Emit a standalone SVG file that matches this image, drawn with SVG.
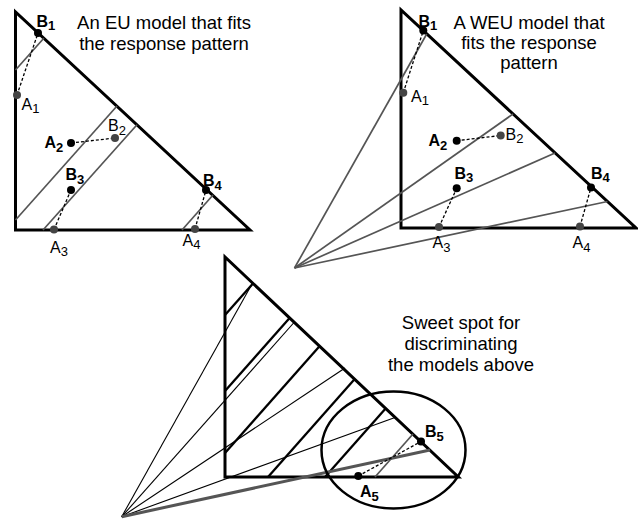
<svg xmlns="http://www.w3.org/2000/svg" width="638" height="520" viewBox="0 0 638 520">
<style>
.tri{fill:none;stroke:#000;stroke-width:3;stroke-linejoin:miter}
.gl{stroke:#555;stroke-width:1.7;fill:none}
.eu{stroke:#000;stroke-width:2.3;fill:none}
.fan{stroke:#000;stroke-width:1.1;fill:none}
.gfan{stroke:#555;stroke-width:3;fill:none}
.dash{stroke:#000;stroke-width:1.3;stroke-dasharray:3 2;fill:none}
.pb{fill:#000}
.pg{fill:#444}
.cap{font-family:"Liberation Sans",Arial,Helvetica,sans-serif;font-size:18.5px;text-anchor:middle;fill:#000}
.lb{font-family:"Liberation Sans",Arial,Helvetica,sans-serif;font-size:16px;fill:#000}
.lbb{font-family:"Liberation Sans",Arial,Helvetica,sans-serif;font-size:16px;font-weight:bold;fill:#000}
.sub{font-size:13px}
</style>

<!-- Top-left: EU model -->
<g id="eu-model">
  <polygon class="tri" points="15.5,12 15.5,230 250,230"/>
  <line class="gl" x1="15.5" y1="70" x2="43.8" y2="38.3"/>
  <line class="gl" x1="15.5" y1="220" x2="117" y2="106"/>
  <line class="gl" x1="43" y1="230" x2="137" y2="124.7"/>
  <line class="gl" x1="182" y1="230" x2="213" y2="195"/>
  <text class="cap" x="164" y="29">An EU model that fits</text>
  <text class="cap" x="164" y="50">the response pattern</text>
</g>
<g id="eu-pairs">
  <line class="dash" x1="17" y1="95" x2="38" y2="33"/>
  <line class="dash" x1="71" y1="143" x2="115" y2="138"/>
  <line class="dash" x1="54" y1="229.5" x2="71" y2="190"/>
  <line class="dash" x1="195" y1="229" x2="206" y2="190"/>
  <circle class="pb" cx="38" cy="33" r="4"/>
  <circle class="pg" cx="17" cy="95" r="4"/>
  <circle class="pb" cx="71" cy="143" r="4"/>
  <circle class="pg" cx="115" cy="138" r="4"/>
  <circle class="pb" cx="71" cy="190" r="4"/>
  <circle class="pg" cx="54" cy="229.5" r="4"/>
  <circle class="pb" cx="206" cy="190" r="4"/>
  <circle class="pg" cx="195" cy="229" r="4"/>
  <text class="lbb" x="36.5" y="26.5">B<tspan class="sub" dy="3.5">1</tspan></text>
  <text class="lb" x="21.5" y="109.5">A<tspan class="sub" dy="3.5">1</tspan></text>
  <text class="lbb" x="44.5" y="148">A<tspan class="sub" dy="4">2</tspan></text>
  <text class="lb" x="108" y="131">B<tspan class="sub" dy="3.5">2</tspan></text>
  <text class="lbb" x="65.5" y="180">B<tspan class="sub" dy="3.5">3</tspan></text>
  <text class="lb" x="50" y="252.5">A<tspan class="sub" dy="3.5">3</tspan></text>
  <text class="lbb" x="203" y="186">B<tspan class="sub" dy="3.5">4</tspan></text>
  <text class="lb" x="182.5" y="245.5">A<tspan class="sub" dy="3.5">4</tspan></text>
</g>

<!-- Top-right: WEU model -->
<g id="weu-model">
  <polygon class="tri" points="401,10 401,228 636,228"/>
  <line class="gl" x1="294.5" y1="268" x2="426.7" y2="34"/>
  <line class="gl" x1="294.5" y1="268" x2="513" y2="114"/>
  <line class="gl" x1="294.5" y1="268" x2="555" y2="153"/>
  <line class="gl" x1="294.5" y1="268" x2="607.5" y2="201.5"/>
  <text class="cap" x="529" y="28.5">A WEU model that</text>
  <text class="cap" x="529" y="48.5">fits the response</text>
  <text class="cap" x="529" y="68.5">pattern</text>
</g>
<g id="weu-pairs">
  <line class="dash" x1="403.3" y1="92.7" x2="423.3" y2="30.5"/>
  <line class="dash" x1="456.7" y1="140.7" x2="500.7" y2="135.5"/>
  <line class="dash" x1="439" y1="227" x2="456.7" y2="188.3"/>
  <line class="dash" x1="580" y1="226.5" x2="591" y2="187.5"/>
  <circle class="pb" cx="423.3" cy="30.5" r="4"/>
  <circle class="pg" cx="403.3" cy="92.7" r="4"/>
  <circle class="pb" cx="456.7" cy="140.7" r="4"/>
  <circle class="pg" cx="500.7" cy="135.5" r="4"/>
  <circle class="pb" cx="456.7" cy="188.3" r="4"/>
  <circle class="pg" cx="439" cy="227" r="4"/>
  <circle class="pb" cx="591" cy="187.5" r="4"/>
  <circle class="pg" cx="580" cy="226.5" r="4"/>
  <text class="lbb" x="418.5" y="26.5">B<tspan class="sub" dy="3.5">1</tspan></text>
  <text class="lb" x="411" y="101.5">A<tspan class="sub" dy="3.5">1</tspan></text>
  <text class="lbb" x="428.5" y="146">A<tspan class="sub" dy="4">2</tspan></text>
  <text class="lb" x="505.5" y="139.5">B<tspan class="sub" dy="3.5">2</tspan></text>
  <text class="lbb" x="454.5" y="178.5">B<tspan class="sub" dy="3.5">3</tspan></text>
  <text class="lb" x="432.5" y="248">A<tspan class="sub" dy="3.5">3</tspan></text>
  <text class="lbb" x="591" y="178.5">B<tspan class="sub" dy="3.5">4</tspan></text>
  <text class="lb" x="572.5" y="248">A<tspan class="sub" dy="3.5">4</tspan></text>
</g>

<!-- Bottom: sweet spot -->
<g id="sweet-spot">
  <polygon class="tri" points="225,257 225,477 458.3,477"/>
  <g id="connectors">
    <line class="eu" x1="225" y1="315" x2="253" y2="283.4"/>
    <line class="eu" x1="225" y1="391" x2="289.6" y2="318"/>
    <line class="eu" x1="225" y1="453" x2="319.5" y2="346.2"/>
    <line class="eu" x1="268" y1="477" x2="354.5" y2="379.3"/>
    <line class="eu" x1="325" y1="477" x2="385.6" y2="408.6"/>
    <line class="fan" x1="121.7" y1="516.7" x2="252" y2="284"/>
    <line class="fan" x1="121.7" y1="516.7" x2="294" y2="322.5"/>
    <line class="fan" x1="121.7" y1="516.7" x2="345" y2="368"/>
    <line class="fan" x1="121.7" y1="516.7" x2="395" y2="417.5"/>
    <line class="gfan" x1="121.7" y1="516.7" x2="430" y2="450"/>
    <line class="gl" x1="375" y1="477" x2="413" y2="434"/>
    <line class="dash" x1="358.3" y1="476" x2="421" y2="441.5"/>
  </g>
  <ellipse cx="393.5" cy="450" rx="72" ry="58.5" fill="none" stroke="#000" stroke-width="2.5"/>
  <circle class="pb" cx="358.3" cy="476" r="4"/>
  <circle class="pb" cx="421" cy="441.5" r="4"/>
  <text class="lbb" x="425" y="437">B<tspan class="sub" dy="4">5</tspan></text>
  <text class="lbb" x="360" y="496.5">A<tspan class="sub" dy="4">5</tspan></text>
  <text class="cap" x="461" y="329">Sweet spot for</text>
  <text class="cap" x="461" y="350">discriminating</text>
  <text class="cap" x="461" y="371">the models above</text>
</g>
</svg>
